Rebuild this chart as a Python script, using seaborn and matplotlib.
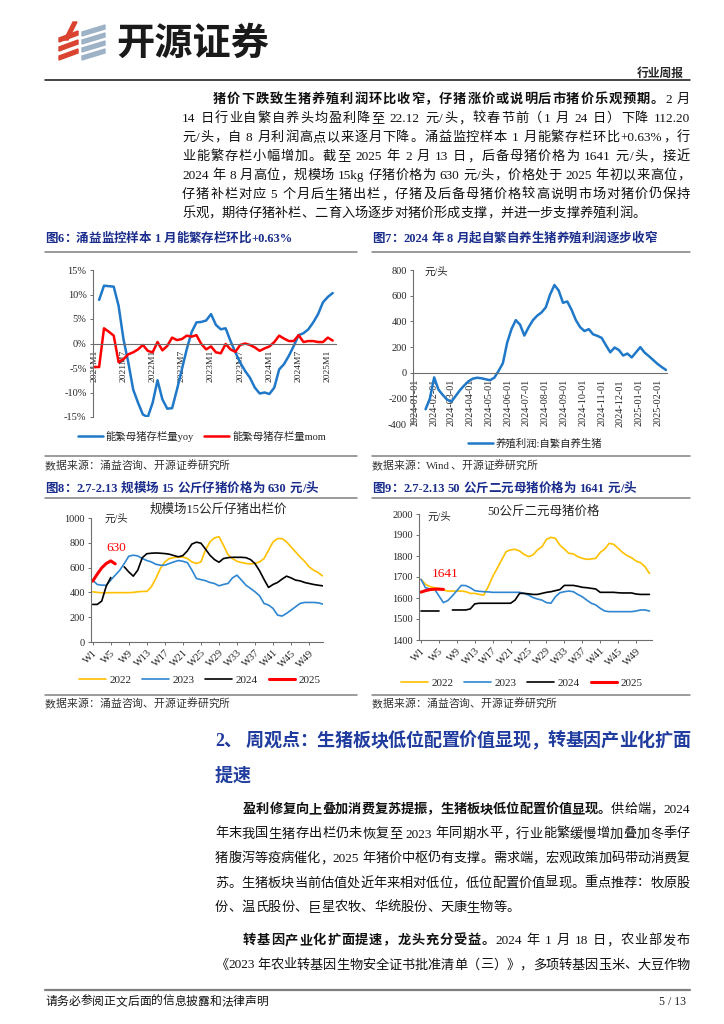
import re
import numpy as np
import pandas as pd
import seaborn as sns
import matplotlib.pyplot as plt
import matplotlib.dates as mdates
from matplotlib.lines import Line2D
from matplotlib.patches import Polygon

# ===== data =====
# fig 6: sow herd, yoy (from 2021M2) and mom (from 2021M1), %
sow_yoy = [8.9, 11.8, 11.7, 11.6, 7.7, 0.9, -3.9, -9.4, -12.1, -14.5,
           -15.0, -12.1, -7.5, -11.4, -13.3, -13.2, -9.4, -5.3, -1.2, 2.3,
           4.3, 4.4, 4.7, 6.0, 3.8, 2.9, 3.1, 0.5, -1.8, -3.9,
           -5.6, -7.0, -9.0, -10.2, -10.0, -10.3, -9.0, -5.3, -4.2, -2.5,
           -0.5, 1.7, 2.1, 2.9, 4.3, 6.0, 8.4, 9.5, 10.3]
sow_mom = [-4.8, -4.8, 3.1, 2.4, 1.6, -3.8, -3.2, -2.2, -1.8, -1.2,
           -0.3, -1.5, -1.8, 0.3, -1.4, -0.5, 1.2, 0.7, 0.9, 1.6,
           1.4, 1.7, -0.1, -1.2, -0.6, -1.8, -2.0, -0.1, -1.2, -1.7,
           -0.3, 0.0, -0.3, -0.8, -1.5, -1.0, -0.6, 0.3, 1.6, 1.0,
           0.5, 0.5, 1.7, 0.3, 0.5, 0.5, 0.3, 0.3, 1.2, 0.6]
month_labels = ['2021M1', '2021M7', '2022M1', '2022M7', '2023M1',
                '2023M7', '2024M1', '2024M7', '2025M1']

# fig 7: weekly profit of self-bred hogs, yuan/head
profit = [-283, -200, -35, -130, -172, -208, -225, -180, -135, -98,
          -65, -45, -38, -42, -50, -57, -38, 15, 75, 235,
          340, 410, 375, 290, 355, 410, 445, 470, 510, 610,
          683, 640, 545, 555, 490, 410, 355, 325, 340, 300,
          288, 272, 215, 160, 197, 178, 135, 150, 120, 160,
          200, 158, 130, 100, 70, 45, 22]
profit_dates = pd.date_range(end='2025-02-14', periods=len(profit), freq='7D')

nan = np.nan
# fig 8: 15kg piglet price, yuan/head, W1..W52
piglet = {
    '2022': [405, 400, 397, 397, 398, 398, 398, 398, 398, 400,
             405, 408, 408, 445, 512, 592, 646, 673, 681, 684,
             686, 673, 646, 633, 646, 740, 807, 839, 850, 780,
             705, 673, 651, 641, 633, 630, 633, 646, 673, 740,
             807, 834, 834, 807, 767, 727, 686, 651, 606, 579,
             560, 533],
    '2023': [499, 464, 458, 458, 499, 539, 579, 633, 692, 700,
             694, 673, 657, 646, 627, 619, 619, 633, 646, 657,
             651, 640, 580, 512, 503, 495, 480, 472, 453, 464,
             472, 517, 539, 499, 458, 432, 405, 373, 311, 298,
             271, 217, 209, 231, 257, 284, 311, 319, 319, 319,
             316, 306],
    '2024': [303, 303, 330, 450, 520, nan, nan, 606, 565, 531,
             580, 680, 712, 716, 718, 716, 713, 708, 697, 687,
             697, 735, 790, 805, 797, 750, 700, 665, 643, 673,
             680, 683, 683, 683, 680, 665, 632, 575, 505, 440,
             464, 480, 507, 531, 517, 499, 493, 480, 472, 464,
             458, 453],
    '2025': [491, 547, 598, 633, 654, 630],
}
# fig 9: 50kg binary gilt price, yuan/head, W1..W52
gilt = {
    '2022': [1689, 1665, 1654, 1649, 1646, 1638, 1633, 1633, 1633, 1633,
             1630, 1622, 1622, 1617, 1614, 1654, 1702, 1741, 1781, 1821,
             1829, 1832, 1824, 1808, 1797, 1805, 1829, 1844, 1879, 1889,
             1884, 1852, 1833, 1813, 1810, 1797, 1789, 1784, 1786, 1789,
             1817, 1833, 1860, 1856, 1837, 1817, 1802, 1792, 1776, 1768,
             1749, 1717],
    '2023': [1689, 1649, 1643, 1643, 1610, 1578, 1588, 1610, 1635, 1660,
             1659, 1649, 1635, 1632, 1630, 1629, 1627, 1627, 1627, 1627,
             1627, 1627, 1627, 1622, 1614, 1602, 1595, 1590, 1578, 1575,
             1606, 1625, 1630, 1633, 1630, 1617, 1606, 1590, 1575, 1567,
             1551, 1538, 1535, 1535, 1535, 1535, 1535, 1535, 1538, 1543,
             1543, 1538],
    '2024': [1538, 1538, 1538, 1538, 1538, nan, nan, 1543, 1543, 1543,
             1543, 1548, 1572, 1575, 1575, 1575, 1575, 1575, 1575, 1575,
             1575, 1590, 1622, 1622, 1620, 1617, 1617, 1622, 1627, 1630,
             1635, 1640, 1660, 1660, 1660, 1656, 1651, 1649, 1646, 1643,
             1627, 1627, 1627, 1627, 1625, 1624, 1624, 1624, 1619, 1617,
             1617, 1617],
    '2025': [1628, 1635, 1640, 1642, 1642, 1641],
}
week_ticks = list(range(1, 53, 4))

BLUE = '#1F78C8'
RED = '#FF0000'
YEAR_COLORS = {'2022': '#FFC000', '2023': '#2E86D1', '2024': '#000000', '2025': '#FF0000'}
YEAR_LW = {'2022': 1.2, '2023': 1.2, '2024': 1.2, '2025': 2.2}
NAVY = '#1A2D8C'
HEAD_BLUE = '#1F3C9E'

# ===== page setup =====
sns.set_theme(style='white')
plt.rcParams['font.family'] = ['Liberation Serif', 'Noto Sans CJK SC', 'DejaVu Sans']
plt.rcParams['axes.unicode_minus'] = False

W, H = 724, 1024
fig = plt.figure(figsize=(W / 100, H / 100), dpi=100)
renderer = fig.canvas.get_renderer()


def fx(x):
    return x / W


def fy(y):
    return 1 - y / H


def rect(l, t, r, b):
    return [l / W, 1 - b / H, (r - l) / W, (b - t) / H]


def hline(x0, x1, y, color='#808080', lw=1.1):
    fig.add_artist(Line2D([fx(x0), fx(x1)], [fy(y), fy(y)], color=color,
                          lw=lw, transform=fig.transFigure))


TOKEN = re.compile(r'[A-Za-z0-9.+%/\-:]+| |.')


def text_line(segs, x0, y, size, x1=None, color='#111111'):
    # segs: list of (text, bold); x1 given -> justify to that edge
    items = []
    for s, bold in segs:
        for tok in TOKEN.findall(s):
            if tok == ' ':
                items.append((None, size * 1.389 * 0.25))
                continue
            t = fig.text(0, 0, tok, fontsize=size, color=color, va='baseline',
                         fontweight='bold' if bold else 'normal')
            items.append((t, t.get_window_extent(renderer).width))
    total = sum(w for _, w in items)
    extra = 0
    if x1 is not None and len(items) > 1:
        extra = (x1 - x0 - total) / (len(items) - 1)
    x = x0
    for t, w in items:
        if t is not None:
            t.set_position((fx(x), fy(y)))
        x += w + extra


def style_axes(ax):
    ax.set_facecolor('none')
    ax.grid(False)
    for s in ['top', 'right']:
        ax.spines[s].set_visible(False)
    for s in ['left', 'bottom']:
        ax.spines[s].set_color('#6e6e6e')
        ax.spines[s].set_linewidth(0.8)
    ax.set_xlabel('')
    ax.set_ylabel('')
    ax.tick_params(axis='y', length=2.5, width=0.7, color='#6e6e6e',
                   direction='out', pad=2, labelsize=7.5, left=True)


def long_frame(series):
    rows = []
    for year, vals in series.items():
        seg = 0
        for w, v in enumerate(vals, start=1):
            if np.isnan(v):
                seg += 1
                continue
            rows.append((w, v, year, f'{year}-{seg}'))
    return pd.DataFrame(rows, columns=['week', 'val', 'year', 'seg'])


# ===== header =====
for yy in [33, 42, 51]:
    fig.add_artist(Polygon([(fx(59), fy(yy + 5)), (fx(78), fy(yy - 2)),
                            (fx(78), fy(yy + 2)), (fx(59), fy(yy + 9))],
                           closed=True, color='#D9432F', transform=fig.transFigure))
fig.add_artist(Polygon([(fx(73), fy(22)), (fx(77), fy(22)), (fx(68), fy(40)),
                        (fx(64), fy(40))], closed=True, color='#D9432F',
                       transform=fig.transFigure))
for yy in [28, 36, 44, 52]:
    fig.add_artist(Polygon([(fx(82), fy(yy + 4)), (fx(105), fy(yy - 3)),
                            (fx(105), fy(yy + 1)), (fx(82), fy(yy + 8))],
                           closed=True, color='#9DB2C6', transform=fig.transFigure))
fig.text(fx(116), fy(43), '开源证券', fontsize=27.5, fontweight='bold',
         family='Noto Sans CJK SC', color='#1a1a1a', va='center')
fig.text(fx(684), fy(73), '行业周报', fontsize=8.5, fontweight='bold',
         family='Noto Sans CJK SC', ha='right', va='center')
hline(45, 690, 80, color='#111111', lw=1.1)

# ===== paragraph 1 =====
BODY = 9.5
p1 = [
    ([('猪价下跌致生猪养殖利润环比收窄，仔猪涨价或说明后市猪价乐观预期。', True), ('2 月', False)], 213, True),
    ([('14 日行业自繁自养头均盈利降至 22.12 元/头，较春节前（1 月 24 日）下降 112.20', False)], 182, True),
    ([('元/头，自 8 月利润高点以来逐月下降。涌益监控样本 1 月能繁存栏环比+0.63%，行', False)], 182, True),
    ([('业能繁存栏小幅增加。截至 2025 年 2 月 13 日，后备母猪价格为 1641 元/头，接近', False)], 182, True),
    ([('2024 年 8 月高位，规模场 15kg 仔猪价格为 630 元/头，价格处于 2025 年初以来高位，', False)], 182, True),
    ([('仔猪补栏对应 5 个月后生猪出栏，仔猪及后备母猪价格较高说明市场对猪价仍保持', False)], 182, True),
    ([('乐观，期待仔猪补栏、二育入场逐步对猪价形成支撑，并进一步支撑养殖利润。', False)], 182, False),
]
for k, (segs, x0, just) in enumerate(p1):
    text_line(segs, x0, 103 + 19 * k, BODY, 690 if just else None)

# ===== figure titles / rules =====
text_line([('图6：涌益监控样本 1 月能繁存栏环比+0.63%', True)], 45, 242, 9, color=NAVY)
text_line([('图7：2024 年 8 月起自繁自养生猪养殖利润逐步收窄', True)], 372, 242, 9, color=NAVY)
hline(45, 357, 252)
hline(372, 690, 252)
hline(45, 357, 456)
hline(372, 690, 456)
text_line([('数据来源：涌益咨询、开源证券研究所', False)], 45, 469, 7.8, color='#333333')
text_line([('数据来源：Wind、开源证券研究所', False)], 372, 469, 7.8, color='#333333')
text_line([('图8：2.7-2.13 规模场 15 公斤仔猪价格为 630 元/头', True)], 45, 492, 9, color=NAVY)
text_line([('图9：2.7-2.13 50 公斤二元母猪价格为 1641 元/头', True)], 372, 492, 9, color=NAVY)
hline(45, 357, 498)
hline(372, 690, 498)
hline(45, 357, 695)
hline(372, 690, 695)
text_line([('数据来源：涌益咨询、开源证券研究所', False)], 45, 707, 7.8, color='#333333')
text_line([('数据来源：涌益咨询、开源证券研究所', False)], 372, 707, 7.8, color='#333333')

# ===== fig 6 =====
ax6 = fig.add_axes(rect(92.8, 270, 335.6, 417))
df6 = pd.concat([
    pd.DataFrame({'idx': np.arange(1, len(sow_yoy) + 1), 'val': sow_yoy, 's': 'yoy'}),
    pd.DataFrame({'idx': np.arange(len(sow_mom)), 'val': sow_mom, 's': 'mom'}),
])
sns.lineplot(data=df6, x='idx', y='val', hue='s', palette={'yoy': BLUE, 'mom': RED},
             lw=1.8, legend=False, ax=ax6)
style_axes(ax6)
ax6.set_xlim(-0.3, 49.6)
ax6.set_ylim(-15, 15)
ax6.spines['bottom'].set_position(('data', 0))
ax6.set_xticks(range(0, 49, 6))
ax6.set_xticklabels(month_labels, rotation=90, fontsize=6.8)
ax6.set_yticks(range(-15, 16, 5))
ax6.set_yticklabels([f'{v}%' for v in range(-15, 16, 5)])
ax6.tick_params(axis='x', length=0, pad=4.5)
ax6.legend([Line2D([], [], color=BLUE, lw=1.8), Line2D([], [], color=RED, lw=1.8)],
           ['能繁母猪存栏量yoy', '能繁母猪存栏量mom'], loc='center',
           bbox_to_anchor=(fx(202), fy(436)), bbox_transform=fig.transFigure,
           ncol=2, frameon=False, fontsize=7.5, handlelength=2.4,
           handletextpad=0.3, columnspacing=1.0)

# ===== fig 7 =====
ax7 = fig.add_axes(rect(413.3, 270, 667.3, 424.3))
sns.lineplot(x=profit_dates, y=profit, color=BLUE, lw=1.8, ax=ax7)
style_axes(ax7)
ax7.set_xlim(pd.Timestamp('2023-12-30'), pd.Timestamp('2025-02-16'))
ax7.set_ylim(-400, 800)
ax7.spines['bottom'].set_position(('data', 0))
ax7.xaxis.set_major_locator(mdates.MonthLocator())
ax7.xaxis.set_major_formatter(mdates.DateFormatter('%Y-%m-%d'))
ax7.set_yticks(range(-400, 801, 200))
ax7.tick_params(axis='x', length=0, pad=4.5, labelsize=7.3, labelrotation=90)
fig.text(fx(424), fy(272), '元/头', fontsize=7.5, va='center')
ax7.legend([Line2D([], [], color=BLUE, lw=1.8)], ['养殖利润:自繁自养生猪'],
           loc='center', bbox_to_anchor=(fx(535), fy(443)),
           bbox_transform=fig.transFigure, frameon=False, fontsize=7.5,
           handlelength=2.4, handletextpad=0.3)


# ===== fig 8 / fig 9 =====
def year_chart(ax, series, ylim, ystep, title, title_xy, unit_xy, note, note_xy,
               legend_xy):
    df = long_frame(series)
    sns.lineplot(data=df, x='week', y='val', hue='year', units='seg', estimator=None,
                 size='year', sizes=YEAR_LW, palette=YEAR_COLORS, legend=False, ax=ax)
    style_axes(ax)
    ax.set_ylim(*ylim)
    ax.set_yticks(range(ylim[0], ylim[1] + 1, ystep))
    ax.set_xticks(week_ticks)
    ax.set_xticklabels([f'W{w}' for w in week_ticks], rotation=45, ha='right',
                       va='top', rotation_mode='anchor', fontsize=7.5)
    ax.tick_params(axis='x', length=2.5, width=0.7, color='#6e6e6e', pad=2,
                   bottom=True)
    fig.text(fx(title_xy[0]), fy(title_xy[1]), title, fontsize=9, ha='center',
             va='center', color='#222222')
    fig.text(fx(unit_xy[0]), fy(unit_xy[1]), '元/头', fontsize=7.5, va='center')
    ax.text(note_xy[0], note_xy[1], note, color=RED, fontsize=9.5, ha='center',
            va='center')
    years = list(series)
    ax.legend([Line2D([], [], color=YEAR_COLORS[y], lw=YEAR_LW[y]) for y in years],
              years, loc='center', bbox_to_anchor=(fx(legend_xy[0]), fy(legend_xy[1])),
              bbox_transform=fig.transFigure, ncol=4, frameon=False, fontsize=8,
              handlelength=2.4, handletextpad=0.3, columnspacing=1.0)


ax8 = fig.add_axes(rect(91, 518, 323.3, 642))
year_chart(ax8, piglet, (0, 1000), 200, '规模场15公斤仔猪出栏价', (218, 510),
           (104, 519), '630', (6.2, 758), (200, 680))
ax8.set_xlim(0.62, 52.15)

ax9 = fig.add_axes(rect(419.3, 514, 651.7, 640))
year_chart(ax9, gilt, (1400, 2000), 100, '50公斤二元母猪价格', (543, 512),
           (427, 517), '1641', (6.4, 1714), (522, 683))
ax9.set_xlim(0.62, 52.5)

# ===== section 2 =====
text_line([('2、 周观点：生猪板块低位配置价值显现，转基因产业化扩面', True)], 215, 746, 13,
          690, color=HEAD_BLUE)
text_line([('提速', True)], 215, 781, 13, color=HEAD_BLUE)

p2 = [
    ([('盈利修复向上叠加消费复苏提振，生猪板块低位配置价值显现。', True), ('供给端，2024', False)], 243, True),
    ([('年末我国生猪存出栏仍未恢复至 2023 年同期水平，行业能繁缓慢增加叠加冬季仔', False)], 215, True),
    ([('猪腹泻等疫病催化，2025 年猪价中枢仍有支撑。需求端，宏观政策加码带动消费复', False)], 215, True),
    ([('苏。生猪板块当前估值处近年来相对低位，低位配置价值显现。重点推荐：牧原股', False)], 215, True),
    ([('份、温氏股份、巨星农牧、华统股份、天康生物等。', False)], 215, False),
]
for k, (segs, x0, just) in enumerate(p2):
    text_line(segs, x0, 813 + 24.5 * k, BODY, 690 if just else None)

p3 = [
    ([('转基因产业化扩面提速，龙头充分受益。', True), ('2024 年 1 月 18 日，农业部发布', False)], 243, True),
    ([('《2023 年农业转基因生物安全证书批准清单（三）》，多项转基因玉米、大豆作物', False)], 215, True),
]
for k, (segs, x0, just) in enumerate(p3):
    text_line(segs, x0, 944 + 24.5 * k, BODY, 690 if just else None)

# ===== footer =====
hline(45, 690, 990, color='#7f7f7f', lw=1.6)
text_line([('请务必参阅正文后面的信息披露和法律声明', False)], 45, 1005, 8.5)
fig.text(fx(686), fy(1005), '5 / 13', fontsize=8.5, ha='right', va='baseline')

fig.savefig('out.png', dpi=100)
